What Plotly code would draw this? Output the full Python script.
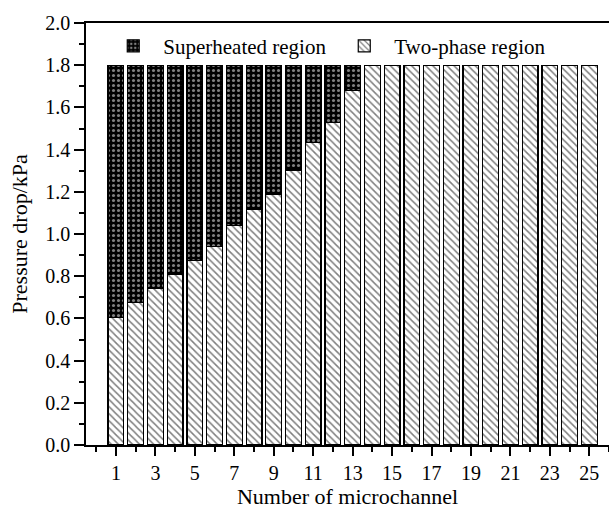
import plotly.graph_objects as go

# Microchannel index and pressure-drop split (kPa)
channels = list(range(1, 26))
two_phase = [0.605, 0.676, 0.743, 0.809, 0.874, 0.940, 1.039, 1.117, 1.190,
             1.303, 1.433, 1.527, 1.682] + [1.8] * 12
total_drop = [1.8] * 25
superheated = [round(t - p, 3) for t, p in zip(total_drop, two_phase)]

x_tick_vals = list(range(1, 26, 2))
y_tick_vals = [round(0.2 * i, 1) for i in range(11)]

FONT = "Liberation Serif"

fig = go.Figure()
fig.add_trace(go.Bar(
    x=channels, y=two_phase, name="Two-phase region",
    width=0.8,
    marker=dict(color="white", line=dict(color="black", width=1.2),
                pattern=dict(shape="\\", fgcolor="black", bgcolor="white",
                             size=5, solidity=0.3)),
))
fig.add_trace(go.Bar(
    x=channels, y=superheated, name="Superheated region",
    width=0.8,
    marker=dict(color="black", line=dict(color="black", width=1.2),
                pattern=dict(shape=".", fgcolor="white", bgcolor="black",
                             size=5, solidity=0.3)),
))

fig.update_layout(
    width=609, height=514,
    barmode="stack",
    plot_bgcolor="white", paper_bgcolor="white",
    margin=dict(l=86, r=0, t=23, b=69),
    font=dict(family=FONT, size=20, color="black"),
    legend=dict(orientation="h", traceorder="reversed",
                x=0.033, xanchor="left", y=0.945, yanchor="middle",
                itemwidth=50, entrywidth=166, entrywidthmode="pixels",
                font=dict(family=FONT, size=21),
                bgcolor="rgba(0,0,0,0)"),
    xaxis=dict(
        range=[-0.52, 26.0],
        tickvals=x_tick_vals, ticktext=[str(v) for v in x_tick_vals],
        ticks="outside", ticklen=9, tickwidth=1.5, tickcolor="black",
        showline=True, linecolor="black", linewidth=1.5, mirror=True,
        showgrid=False, zeroline=False,
        minor=dict(dtick=1, tick0=0, ticks="outside", ticklen=5,
                   tickwidth=1.5, tickcolor="black", showgrid=False),
        tickfont=dict(family=FONT, size=20),
        title=dict(text="Number of microchannel", standoff=4,
                   font=dict(family=FONT, size=22)),
    ),
    yaxis=dict(
        range=[0, 2.0],
        tickvals=y_tick_vals, tickformat=".1f",
        ticks="outside", ticklen=10, tickwidth=1.5, tickcolor="black",
        showline=True, linecolor="black", linewidth=1.5,
        showgrid=False, zeroline=False,
        minor=dict(dtick=0.1, ticks="outside", ticklen=5,
                   tickwidth=1.5, tickcolor="black", showgrid=False),
        tickfont=dict(family=FONT, size=20),
        title=dict(text="Pressure drop/kPa", standoff=12,
                   font=dict(family=FONT, size=22)),
    ),
)

fig.write_html("out.html")
